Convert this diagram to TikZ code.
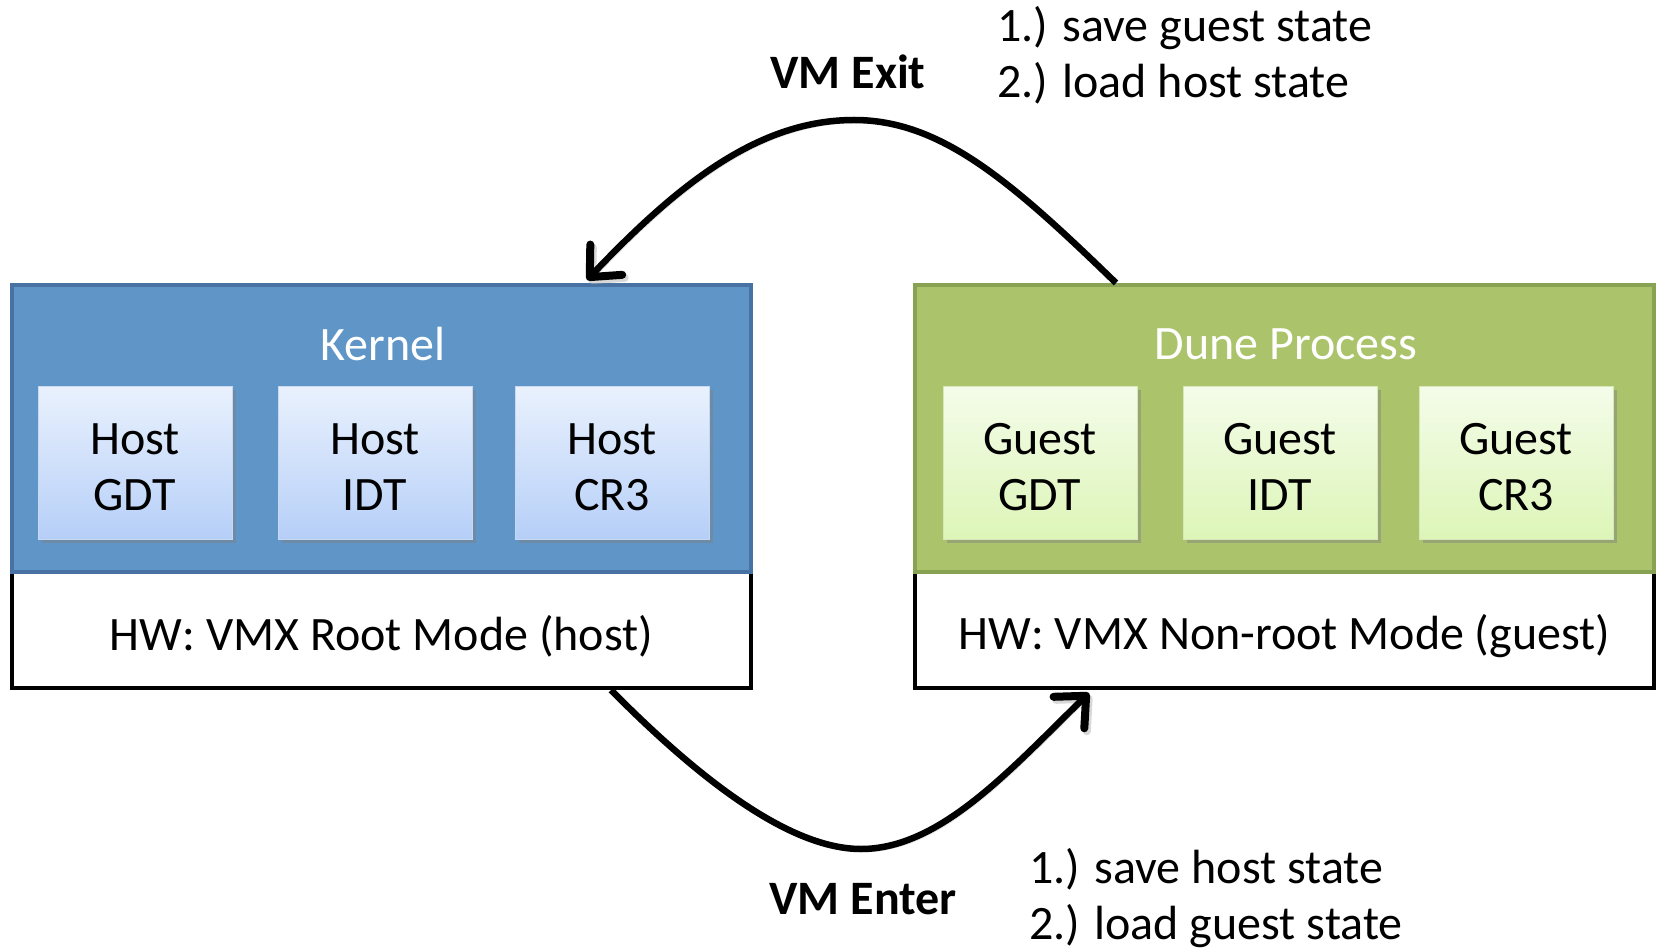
\documentclass[tikz,border=0pt]{standalone}
\usepackage{fontspec}
\setmainfont{Carlito}
\usetikzlibrary{arrows.meta,shadows}
\definecolor{kernfill}{RGB}{95,149,199}
\definecolor{kernedge}{RGB}{72,114,164}
\definecolor{dunefill}{RGB}{171,196,108}
\definecolor{duneedge}{RGB}{136,162,84}
\definecolor{hosttop}{RGB}{233,241,253}
\definecolor{hostbot}{RGB}{182,207,248}
\definecolor{hostedge}{RGB}{200,216,240}
\definecolor{guesttop}{RGB}{244,252,233}
\definecolor{guestbot}{RGB}{221,245,184}
\definecolor{guestedge}{RGB}{214,232,186}
\begin{document}
\begin{tikzpicture}[x=1pt,y=-1pt,
  every node/.style={font=\fontsize{48}{56}\selectfont, inner sep=0pt},
  modebox/.style={line width=4pt, minimum width=739pt, minimum height=287pt},
  hwbox/.style={draw=black, fill=white, line width=4pt, minimum width=739pt, minimum height=116pt},
  regbox/.style={minimum width=194pt, minimum height=152pt, line width=1pt,
    drop shadow={shadow xshift=3.5pt, shadow yshift=-3.5pt, opacity=0.45}},
  regtext/.style={label={[align=center, yshift=-4pt]center:#1}},
  hwtext/.style={label={[yshift=-6pt]center:#1}},
  hostreg/.style={regbox, draw=hostedge, top color=hosttop, bottom color=hostbot},
  guestreg/.style={regbox, draw=guestedge, top color=guesttop, bottom color=guestbot},
  flow/.style={line width=6.5pt, -{Straight Barb[length=24pt, width=44pt, line width=8pt, round]},
    preaction={draw=black!30, opacity=0.5, transform canvas={shift={(2.5pt,-3pt)}}}},
  steptext/.style={align=left, anchor=west},
]
\useasboundingbox (0,0) rectangle (1657,949);

% white hardware-mode boxes (drawn first, their top edge is covered)
\node[hwbox, hwtext={HW: VMX Root Mode (host)}] (hwroot) at (381.5,630) {};
\node[hwbox, hwtext={HW: VMX Non-root Mode (guest)}] (hwguest) at (1284.5,630) {};

% kernel side
\node[modebox, draw=kernedge, fill=kernfill] (kernel) at (381.5,428.5) {};
\node[text=white] (kernlbl) at (383,344) {Kernel};
\node[hostreg, regtext={Host\\GDT}] (hgdt) at (135,463) {};
\node[hostreg, regtext={Host\\IDT}] (hidt) at (375,463) {};
\node[hostreg, regtext={Host\\CR3}] (hcr3) at (612,463) {};

% Dune process side
\node[modebox, draw=duneedge, fill=dunefill] (dune) at (1284.5,428.5) {};
\node[text=white] (dunelbl) at (1286,344) {Dune Process};
\node[guestreg, regtext={Guest\\GDT}] (ggdt) at (1040,463) {};
\node[guestreg, regtext={Guest\\IDT}] (gidt) at (1280,463) {};
\node[guestreg, regtext={Guest\\CR3}] (gcr3) at (1516,463) {};

% transition end points on the boxes
\coordinate (exitS) at ([xshift=203pt]dune.north west);
\coordinate (exitE) at ([xshift=577pt,yshift=3pt]kernel.north west);
\coordinate (enterS) at ([xshift=601pt]hwroot.south west);
\coordinate (enterE) at ([xshift=176pt,yshift=-3pt]hwguest.south west);

% VM exit / VM enter transitions
\draw[flow] (exitS) .. controls (1010,180) and (940,120) .. (854,120)
  .. controls (760,120) and (680,182) .. (exitE);
\draw[flow] (enterS) .. controls (700,780) and (790,849) .. (861,849)
  .. controls (940,849) and (1010,770) .. (enterE);

% labels
\node[font=\fontsize{48}{56}\selectfont\bfseries] (exitlbl) at (848,72) {VM Exit};
\node[steptext] (exitsteps) at (997,55) {1.) save guest state\\2.) load host state};
\node[font=\fontsize{48}{56}\selectfont\bfseries] (enterlbl) at (863,899) {VM Enter};
\node[steptext] (entersteps) at (1029,898) {1.) save host state\\2.) load guest state};
\end{tikzpicture}
\end{document}
